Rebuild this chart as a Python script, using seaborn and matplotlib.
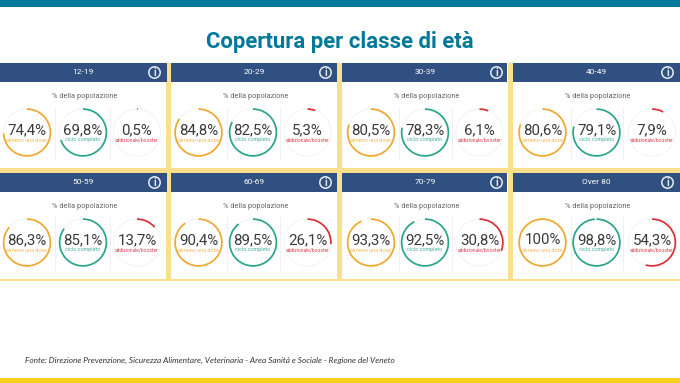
import matplotlib
matplotlib.use("Agg")
import matplotlib.pyplot as plt
from matplotlib.patches import Rectangle, Circle
import seaborn as sns

sns.set_theme(style="white")
plt.rcParams["font.family"] = ["Roboto", "DejaVu Sans"]

W, H = 680, 383

# dati
classi = ["12-19", "20-29", "30-39", "40-49", "50-59", "60-69", "70-79", "Over 80"]
almeno_una = [74.4, 84.8, 80.5, 80.6, 86.3, 90.4, 93.3, 100]
ciclo = [69.8, 82.5, 78.3, 79.1, 85.1, 89.5, 92.5, 98.8]
booster = [0.5, 5.3, 6.1, 7.9, 13.7, 26.1, 30.8, 54.3]
etichette = ["almeno una dose", "ciclo completo", "addizionale/booster"]
titolo = "Copertura per classe di età"
sottotitolo = "% della popolazione"
fonte = "Fonte: Direzione Prevenzione, Sicurezza Alimentare, Veterinaria - Area Sanità e Sociale - Regione del Veneto"

colori = sns.color_palette(["#f0a92e", "#2aa58c", "#dc2f35"])
colori_testo = ["#f0b75a", "#45b09b", "#dc3f4d"]
BLU = "#2f5080"
GIALLO = "#fadf8c"
TEAL = "#02789a"
ORO = "#f5cf1c"

fig = plt.figure(figsize=(W / 100, H / 100), dpi=100, facecolor="white")
bg = fig.add_axes([0, 0, 1, 1])
bg.set_xlim(0, W)
bg.set_ylim(H, 0)
bg.axis("off")


def rect(x, y, w, h, c):
    bg.add_patch(Rectangle((x, y), w, h, fc=c, ec="none"))


rect(0, 0, W, 7, TEAL)
rect(0, 378, W, 5, ORO)
bg.text(340, 42, titolo, ha="center", va="center", fontsize=15.9, fontweight="bold",
        color=TEAL, family="Roboto")
bg.text(25, 360, fonte, ha="left", va="center", fontsize=5.93, style="italic",
        color="#333333", family="Lato")

# griglia gialla
rect(0, 168, W, 5, GIALLO)
rect(0, 279, W, 2, GIALLO)
col_x = [0, 171, 342, 513]
col_w = [166.5, 166, 165.3, 167]
# centri degli anelli rispetto alla colonna
anelli = [[27, 83, 137], [27.5, 82, 136.5], [29, 83, 137.5], [29.5, 83.5, 139]]
for x in col_x[1:]:
    rect(x - 5, 63, 5, 218, GIALLO)
rows = [63, 173]


def donut(cx, cy, valore, colore):
    ax = fig.add_axes([(cx - 25) / W, 1 - (cy + 25) / H, 50 / W, 50 / H])
    ax.pie([1], radius=0.96, colors=["#f1f1f1"],
           wedgeprops={"width": 0.035, "linewidth": 0})
    ax.pie([valore, 100 - valore], radius=0.97, startangle=90, counterclock=False,
           colors=[colore, (1, 1, 1, 0)], wedgeprops={"width": 0.07, "linewidth": 0})
    ax.set_xlim(-1, 1)
    ax.set_ylim(-1, 1)
    ax.patch.set_alpha(0)


for i, classe in enumerate(classi):
    c = i % 4
    x0 = col_x[c]
    y0 = rows[i // 4]
    rect(x0, y0, col_w[c], 19, BLU)
    bg.text(x0 + 83, y0 + 9.5, classe, ha="center", va="center", fontsize=6,
            color="white")
    bg.add_patch(Circle((x0 + 154.5, y0 + 9.5), 5.7, fc="none", ec="#e8edf3", lw=1.1))
    bg.text(x0 + 154.5, y0 + 9.5, "i", ha="center", va="center", fontsize=7.5,
            fontweight="bold", color="#e8edf3")
    bg.text(x0 + 85, y0 + 33, sottotitolo, ha="center", va="center", fontsize=5.3,
            color="#666666")
    for x in [anelli[c][0] + 28, anelli[c][1] + 26.5]:
        bg.plot([x0 + x, x0 + x], [y0 + 44, y0 + 97], color="#eeeeee", lw=0.6)
    cy = y0 + 69.5
    valori = [almeno_una[i], ciclo[i], booster[i]]
    for cx, val, col, col_t, lab in zip(anelli[c], valori, colori, colori_testo, etichette):
        donut(x0 + cx, cy, val, col)
        testo = f"{val:g}%".replace(".", ",")
        bg.text(x0 + cx, cy - 2.5, testo, ha="center", va="center", fontsize=10.8,
                color="#3a3a3a", zorder=10)
        bg.text(x0 + cx, cy + 7.5, lab, ha="center", va="center",
                fontsize=3.9 if len(lab) < 16 else 3.5, color=col_t, zorder=10)

fig.savefig("out.png", dpi=100)
